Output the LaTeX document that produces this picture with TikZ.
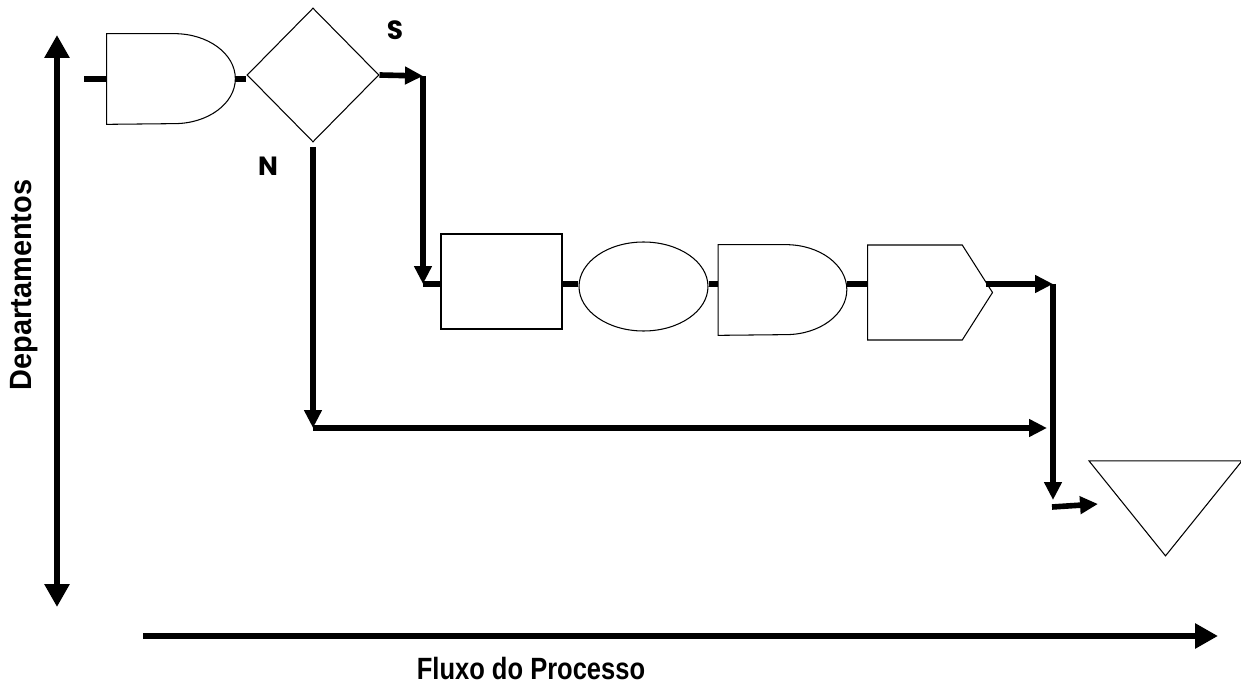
\documentclass[tikz,border=0pt]{standalone}
\usepackage{graphicx}
\usepackage{fontspec}
\setmainfont{Liberation Sans}
\newfontfamily\gothic{Poppins}
\usetikzlibrary{arrows.meta,shapes.geometric,shapes.symbols}

\begin{document}
\begin{tikzpicture}[x=0.02cm,y=-0.02cm,>={Triangle[length=0.36cm,width=0.34cm]}]
  \tikzstyle{shapeline}=[draw,line width=0.6pt,inner sep=0pt]
  \tikzstyle{delaybox}=[inner sep=0pt,minimum width=2.56cm,minimum height=1.8cm]
  \tikzstyle{flow}=[line width=3.2pt]
  \tikzstyle{axis}=[line width=3.6pt,>={Triangle[length=0.46cm,width=0.48cm]}]
  \tikzstyle{lettermark}=[font=\gothic\bfseries\fontsize{15}{17}\selectfont]
  \tikzstyle{axislabel}=[font=\bfseries\fontsize{17.5}{20}\selectfont,inner sep=0pt]
  \useasboundingbox (0,0) rectangle (1241,689);
  % eixos
  \coordinate (topo) at (57,35);
  \coordinate (base) at (57,607);
  \coordinate (inicio) at (143,636);
  \coordinate (final) at (1218,636);
  \draw[axis,<->] (base) -- (topo);
  \draw[axis,->] (inicio) -- (final);
  \node[axislabel,rotate=90] (deptos) at (24,285) {\scalebox{0.94}[1]{Departamentos}};
  \node[axislabel] (fluxo) at (531,669) {\scalebox{0.83}[1]{Fluxo do Processo}};
  % simbolos
  \node[delaybox] (espera) at (171,79) {};
  \node[shapeline,diamond,minimum width=2.64cm,minimum height=2.68cm] (decisao) at (313,75) {};
  \node[shapeline,rectangle,minimum width=2.42cm,minimum height=1.9cm] (caixa) at (501.5,281.5) {};
  \node[shapeline,ellipse,minimum width=2.58cm,minimum height=1.78cm] (elipse) at (643.5,286.5) {};
  \node[delaybox] (espera2) at (782.5,290) {};
  \node[shapeline,signal,signal to=east,signal pointer angle=115,minimum width=2.5cm,minimum height=1.9cm,anchor=west] (sinal) at (867,292.5) {};
  \node[shapeline,isosceles triangle,isosceles triangle stretches,shape border rotate=270,minimum width=3.06cm,minimum height=1.9cm] (fim) at (1165.5,497.5) {};
  \foreach \d in {espera,espera2}
    \draw[line width=0.6pt] (\d.north west) -- ([xshift=-1.22cm]\d.north east)
      arc[start angle=90,end angle=-90,x radius=1.22cm,y radius=0.9cm] -- (\d.south west) -- cycle;
  \node[lettermark] (sim) at (395,30) {S};
  \node[lettermark] (nao) at (268,166) {N};
  % ligacoes
  \coordinate (entrada) at (84,79);
  \coordinate (linha) at (0,284);
  \coordinate (s1) at (423,76);
  \coordinate (s2) at (423,284);
  \coordinate (n1) at (313,147);
  \coordinate (n2) at (313,428);
  \coordinate (n3) at (1047,428);
  \coordinate (d1) at (1053,284);
  \coordinate (d2) at (1053,500);
  \coordinate (d3) at (1052,507);
  \coordinate (d4) at (1098,504);
  \draw[flow] (entrada) -- (espera.west);
  \draw[flow] (espera.east) -- (espera.east -| decisao.west);
  \draw[flow,->] (decisao.east) -- (s1);
  \draw[flow,->] (s1) -- (s2);
  \draw[flow] (s2) -- (caixa.west |- linha);
  \draw[flow] (caixa.east |- linha) -- (elipse.west |- linha);
  \draw[flow] (elipse.east |- linha) -- (espera2.west |- linha);
  \draw[flow] (espera2.east |- linha) -- (sinal.west |- linha);
  \draw[flow,->] (sinal.9 |- linha) -- (d1);
  \draw[flow,->] (d1) -- (d2);
  \draw[flow,->] (n1) -- (n2);
  \draw[flow,->] (n2) -- (n3);
  \draw[flow,->] (d3) -- (d4);
\end{tikzpicture}
\end{document}
